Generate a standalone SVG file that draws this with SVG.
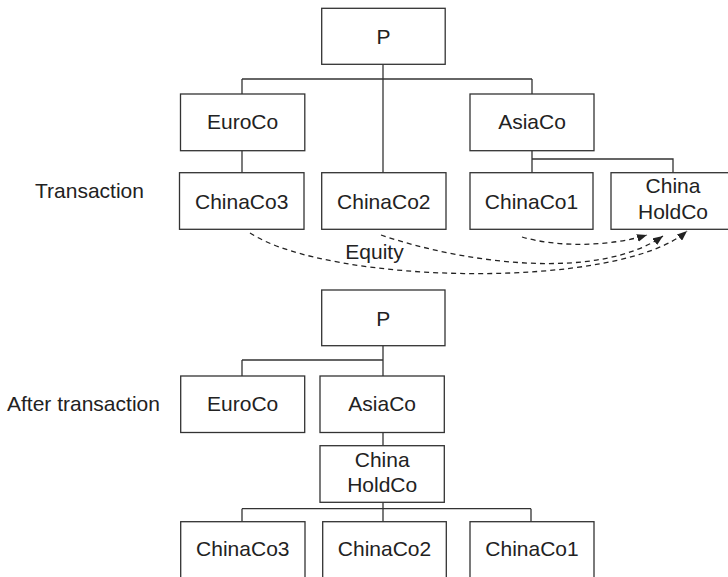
<svg xmlns="http://www.w3.org/2000/svg" width="728" height="577" viewBox="0 0 728 577">
  <style>
    .box { fill: #ffffff; stroke: #333333; stroke-width: 1.3; }
    .lbl { font-family: "Liberation Sans", Arial, sans-serif; font-size: 21px; fill: #222222; text-anchor: middle; }
    .side { font-family: "Liberation Sans", Arial, sans-serif; font-size: 21px; fill: #222222; }
    .wire { fill: none; stroke: #333333; stroke-width: 1.3; }
    .flow { fill: none; stroke: #222222; stroke-width: 1.3; stroke-dasharray: 5 4; }
  </style>
  <defs>
    <marker id="arrow" viewBox="0 0 10 8" refX="10" refY="4" markerWidth="10" markerHeight="8" markerUnits="userSpaceOnUse" orient="auto">
      <path d="M0,0 L10,4 L0,8 z" fill="#222222"/>
    </marker>
  </defs>

  <rect width="728" height="577" fill="#ffffff"/>

  <!-- side captions -->
  <text class="side" x="35" y="198">Transaction</text>
  <text class="side" x="7" y="410.5">After transaction</text>

  <!-- ownership lines and equity transfers -->
  <g id="connectors">
    <!-- before -->
    <path class="wire" d="M383,64.3 V172.7"/>
    <path class="wire" d="M242,79 H532"/>
    <path class="wire" d="M242,79 V94 M532,79 V94"/>
    <path class="wire" d="M242,150.7 V172.7"/>
    <path class="wire" d="M532,150.7 V172.7 M532,159 H673 V172.7"/>
    <!-- equity transfers to China HoldCo -->
    <path class="flow" marker-end="url(#arrow)" d="M522,237 C560,248 612,246 647,235"/>
    <path class="flow" marker-end="url(#arrow)" d="M381,235 C470,265 600,280 663,236"/>
    <path class="flow" marker-end="url(#arrow)" d="M250,233 C330,285 620,290 687,231"/>
    <!-- after -->
    <path class="wire" d="M383,345.7 V376"/>
    <path class="wire" d="M242,360 H383 M242,360 V376"/>
    <path class="wire" d="M383,432.5 V445.7"/>
    <path class="wire" d="M383,502.3 V521.7 M242,508.7 H531 M242,508.7 V521.7 M531,508.7 V521.7"/>
  </g>

  <text class="lbl" x="374.5" y="259">Equity</text>

  <!-- before transaction -->
  <g id="p-before">
    <rect class="box" x="321.7" y="8.3" width="123.5" height="56"/>
    <text class="lbl" x="383.5" y="43.5">P</text>
  </g>
  <g id="euroco-before">
    <rect class="box" x="180.5" y="94" width="124.3" height="56.7"/>
    <text class="lbl" x="242.6" y="129.3">EuroCo</text>
  </g>
  <g id="asiaco-before">
    <rect class="box" x="470" y="94" width="124" height="56.7"/>
    <text class="lbl" x="532" y="129.3">AsiaCo</text>
  </g>
  <g id="chinaco3-before">
    <rect class="box" x="179.5" y="172.7" width="124.5" height="56.6"/>
    <text class="lbl" x="241.7" y="208.5">ChinaCo3</text>
  </g>
  <g id="chinaco2-before">
    <rect class="box" x="321.7" y="172.7" width="124.3" height="56.6"/>
    <text class="lbl" x="383.8" y="208.5">ChinaCo2</text>
  </g>
  <g id="chinaco1-before">
    <rect class="box" x="470" y="172.7" width="123" height="56.6"/>
    <text class="lbl" x="531.5" y="208.5">ChinaCo1</text>
  </g>
  <g id="holdco-before">
    <rect class="box" x="611" y="172.7" width="124" height="56.6"/>
    <text class="lbl" x="673" y="193.3">China</text>
    <text class="lbl" x="673" y="219">HoldCo</text>
  </g>

  <!-- after transaction -->
  <g id="p-after">
    <rect class="box" x="321.7" y="290" width="123.3" height="55.7"/>
    <text class="lbl" x="383.3" y="325.5">P</text>
  </g>
  <g id="euroco-after">
    <rect class="box" x="180.7" y="376" width="124" height="56.5"/>
    <text class="lbl" x="242.7" y="410.5">EuroCo</text>
  </g>
  <g id="asiaco-after">
    <rect class="box" x="320" y="376" width="124.3" height="56.5"/>
    <text class="lbl" x="382.2" y="410.5">AsiaCo</text>
  </g>
  <g id="holdco-after">
    <rect class="box" x="320" y="445.7" width="124.3" height="56.6"/>
    <text class="lbl" x="382.2" y="466.7">China</text>
    <text class="lbl" x="382.2" y="491.7">HoldCo</text>
  </g>
  <g id="chinaco3-after">
    <rect class="box" x="180.7" y="521.7" width="124.3" height="70"/>
    <text class="lbl" x="242.8" y="556">ChinaCo3</text>
  </g>
  <g id="chinaco2-after">
    <rect class="box" x="322.7" y="521.7" width="123.6" height="70"/>
    <text class="lbl" x="384.5" y="556">ChinaCo2</text>
  </g>
  <g id="chinaco1-after">
    <rect class="box" x="470" y="521.7" width="124" height="70"/>
    <text class="lbl" x="532" y="556">ChinaCo1</text>
  </g>
</svg>
